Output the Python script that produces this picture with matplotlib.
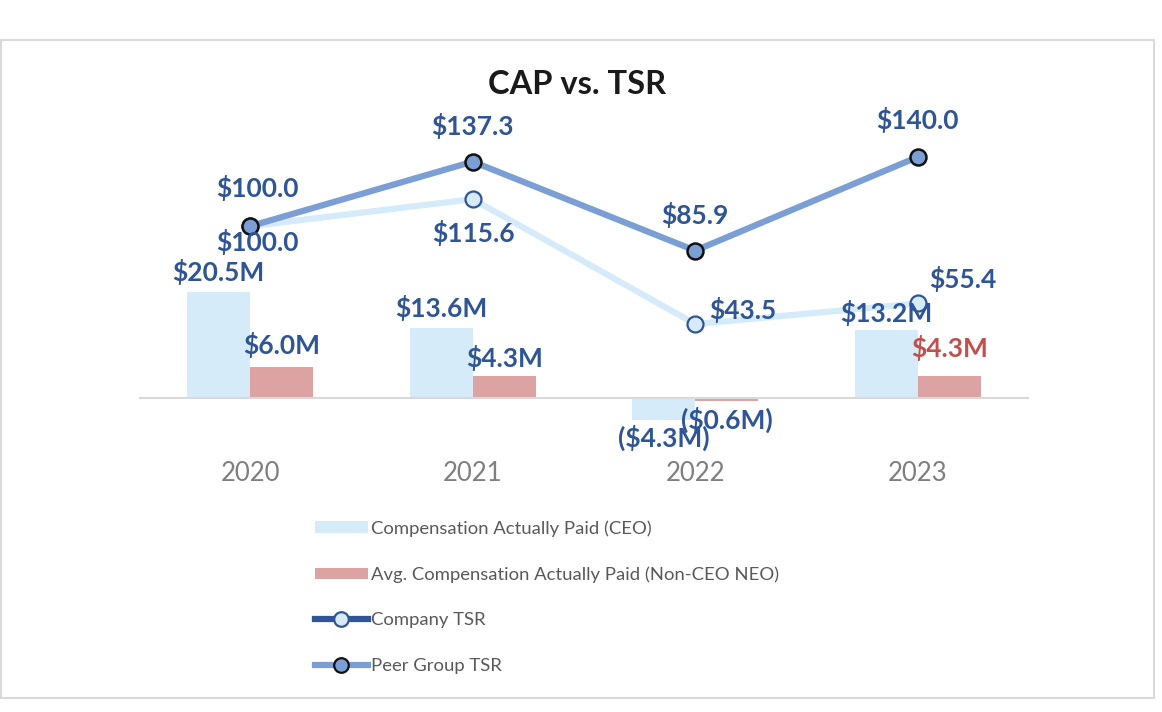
import matplotlib
matplotlib.use("Agg")
import matplotlib.pyplot as plt
from matplotlib.patches import Patch, Rectangle
from matplotlib.lines import Line2D
import numpy as np

# ---- data ----
years = ["2020", "2021", "2022", "2023"]
cap_ceo = [20.5, 13.6, -4.3, 13.2]          # $M
cap_neo = [6.0, 4.3, -0.6, 4.3]             # $M
company_tsr = [100.0, 115.6, 43.5, 55.4]
peer_tsr = [100.0, 137.3, 85.9, 140.0]
legend_labels = ["Compensation Actually Paid (CEO)",
                 "Avg. Compensation Actually Paid (Non-CEO NEO)",
                 "Company TSR", "Peer Group TSR"]
title = "CAP vs. TSR"

# ---- style ----
FONT = ["Lato", "DejaVu Sans"]
plt.rcParams['font.family'] = FONT
C_CEO = "#D6EBFA"
C_NEO = "#DDA3A3"
C_PEER = "#7B9FD4"
C_COMP = "#D6EBFA"
C_DARK = "#2F5597"
C_LABEL = "#2F5597"
C_RED = "#C0504D"
C_GRAY = "#7F7F7F"
C_LEG = "#595959"

W, H = 1162, 712
fig = plt.figure(figsize=(W / 100, H / 100), dpi=100)

# outer border
fig.patches.append(Rectangle((1 / W, 1 - 698 / H), 1153 / W, 658 / H,
                             transform=fig.transFigure, fill=False,
                             edgecolor="#D9D9D9", linewidth=1.5))

ax_l, ax_r, ax_t, ax_b = 139, 1029, 120, 440
ax = fig.add_axes([ax_l / W, 1 - ax_b / H, (ax_r - ax_l) / W, (ax_b - ax_t) / H])
ax2 = ax.twinx()

x = np.arange(len(years))
bw = 0.283
ax.bar(x - bw / 2, cap_ceo, bw, color=C_CEO, zorder=2)
ax.bar(x + bw / 2, cap_neo, bw, color=C_NEO, zorder=2)
ax.axhline(0, color="#D9D9D9", lw=1.5, zorder=3)

ax.set_xlim(-0.5, 3.5)
ax.set_ylim(-(ax_b - 398) / 5.17, (398 - ax_t) / 5.17)
ax2.set_ylim(-(ax_b - 399.3) / 1.731, (399.3 - ax_t) / 1.731)

ax2.plot(x, company_tsr, color=C_COMP, lw=4.5, marker="o", ms=11.5,
         mfc=C_COMP, mec=C_DARK, mew=1.6, zorder=4)
ax2.plot(x, peer_tsr, color=C_PEER, lw=4.5, marker="o", ms=11.5,
         mfc=C_PEER, mec="#111111", mew=1.8, zorder=5)

for a in (ax, ax2):
    for s in a.spines.values():
        s.set_visible(False)
    a.set_yticks([])
ax.set_xticks(x)
ax.set_xticklabels(years, fontsize=18.5, color=C_GRAY)
ax.tick_params(axis="x", length=0, pad=15)

lab_kw = dict(textcoords="offset pixels", ha="center", va="center",
              fontsize=19, fontweight="bold", color=C_LABEL, zorder=10)

# label offsets (pixels)
peer_off = [(7, 38), (0, 36), (0, 36), (0, 37)]
comp_off = [(7, -16), (1, -34), (48, 14), (45, 24)]
ceo_off = [20, 20, -18, 17]
neo_off = [22, 18, -19, 28]

for i in range(len(years)):
    ax2.annotate(f"${peer_tsr[i]:.1f}", (x[i], peer_tsr[i]), xytext=peer_off[i], **lab_kw)
    ax2.annotate(f"${company_tsr[i]:.1f}", (x[i], company_tsr[i]), xytext=comp_off[i], **lab_kw)

def fmt(v):
    return f"(${abs(v):.1f}M)" if v < 0 else f"${v:.1f}M"

for i in range(len(years)):
    ax2.annotate(fmt(cap_ceo[i]), (x[i] - bw / 2, cap_ceo[i]), xycoords=ax.transData,
                 xytext=(0, ceo_off[i]), **lab_kw)
    kw = dict(lab_kw)
    if i == 3:
        kw["color"] = C_RED
    ax2.annotate(fmt(cap_neo[i]), (x[i] + bw / 2, cap_neo[i]), xycoords=ax.transData,
                 xytext=(0, neo_off[i]), **kw)

fig.text(577 / W, 1 - 85 / H, title, ha="center", va="center",
         fontsize=23.5, fontweight="bold", color="#1A1A1A")

handles = [Patch(facecolor=C_CEO, edgecolor="none"),
           Patch(facecolor=C_NEO, edgecolor="none"),
           Line2D([0], [0], color=C_DARK, lw=4.5, marker="o", ms=10.5, mfc=C_COMP, mec=C_DARK, mew=1.6),
           Line2D([0], [0], color=C_PEER, lw=4.5, marker="o", ms=10.5, mfc=C_PEER, mec="#111111", mew=1.6)]
leg = fig.legend(handles, legend_labels, loc="upper left",
                 bbox_to_anchor=(315 / W, 1 - 520 / H), frameon=False,
                 fontsize=13.3, handlelength=2.85, handleheight=0.55,
                 handletextpad=0.2, labelspacing=1.6, borderpad=0,
                 borderaxespad=0)
for t in leg.get_texts():
    t.set_color(C_LEG)

fig.savefig("out.png", dpi=100, facecolor="white")
